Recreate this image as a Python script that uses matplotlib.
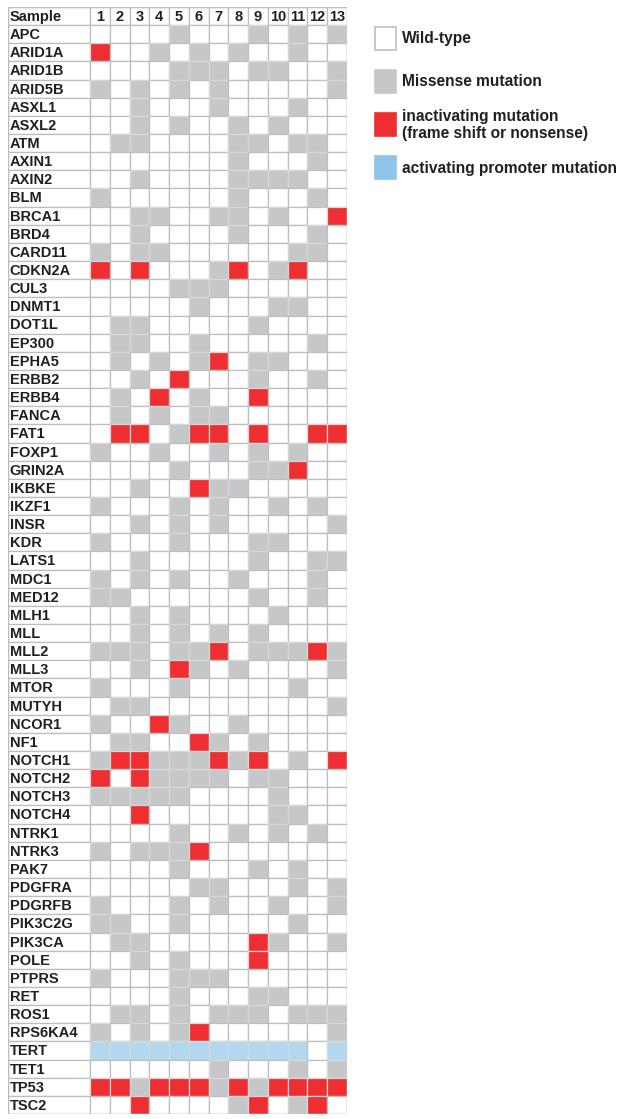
import matplotlib.pyplot as plt
from matplotlib.patches import Rectangle

# 0 = wild-type, 1 = missense, 2 = inactivating, 3 = activating promoter
genes = ["APC", "ARID1A", "ARID1B", "ARID5B", "ASXL1", "ASXL2", "ATM", "AXIN1",
         "AXIN2", "BLM", "BRCA1", "BRD4", "CARD11", "CDKN2A", "CUL3", "DNMT1",
         "DOT1L", "EP300", "EPHA5", "ERBB2", "ERBB4", "FANCA", "FAT1", "FOXP1",
         "GRIN2A", "IKBKE", "IKZF1", "INSR", "KDR", "LATS1", "MDC1", "MED12",
         "MLH1", "MLL", "MLL2", "MLL3", "MTOR", "MUTYH", "NCOR1", "NF1",
         "NOTCH1", "NOTCH2", "NOTCH3", "NOTCH4", "NTRK1", "NTRK3", "PAK7",
         "PDGFRA", "PDGRFB", "PIK3C2G", "PIK3CA", "POLE", "PTPRS", "RET", "ROS1",
         "RPS6KA4", "TERT", "TET1", "TP53", "TSC2"]

status = [
    "0000100010101", "2001010100100", "0000111011001", "1010101000001",
    "0010001000100", "0010100101000", "0110000110110", "0000000100010",
    "0010000111100", "1000000100010", "0011001101002", "0010000100010",
    "1011000000110", "2020001201200", "0000111000000", "0000010001100",
    "0110000010000", "0110010000010", "0101012011000", "0010200010010",
    "0102010020000", "0101011000000", "0220122020022", "1001001010100",
    "0000100011200", "0010021100000", "1000101001010", "0010101000001",
    "1000100011000", "0010000010011", "1010100100010", "1100000010010",
    "0010100001000", "0010101010000", "1110112011121", "0010210100001",
    "1000100000100", "0110000000001", "1002100100000", "0110021010000",
    "1221112120102", "2021111011000", "1111100001000", "0020000001100",
    "0000100101010", "1011120000000", "0000100010100", "0000011000101",
    "1000101001001", "1100100000100", "0110000021001", "0010100020000",
    "1000111000000", "0000100011000", "0110101110111", "1010120000001",
    "3333333333303", "0000001000101", "2212221212222", "0020000120120",
]

samples = [str(i) for i in range(1, 14)]

colors = {"0": "white", "1": "#c6c7c9", "2": "#ee2e31", "3": "#b3d7ee"}
legend_labels = ["Wild-type", "Missense mutation",
                 "inactivating mutation\n(frame shift or nonsense)",
                 "activating promoter mutation"]
legend_colors = ["white", "#c6c7c9", "#ee2e31", "#8ec5e8"]

plt.rcParams['font.family'] = ['Liberation Sans', 'DejaVu Sans']
W, H = 619, 1119
fig = plt.figure(figsize=(W / 100, H / 100), dpi=100)

left, right, top, bottom = 8, 347, 7, 1114
cell_w = (right - 90) / 13
lab_w = (90 - left) / cell_w
ax = fig.add_axes([left / W, 1 - bottom / H, (right - left) / W, (bottom - top) / H])
ax.set_xlim(-lab_w, 13)
ax.set_ylim(len(genes) + 1, 0)
ax.axis('off')

edge = "#bdbdbd"
fs = 10.5
txt = "#231f20"
# header row
ax.add_patch(Rectangle((-lab_w, 0), lab_w, 1, facecolor="white", edgecolor=edge, lw=0.9))
ax.text(-lab_w + 0.08, 0.55, "Sample", fontsize=fs, fontweight='bold', va='center', ha='left', color=txt)
for j, s in enumerate(samples):
    ax.add_patch(Rectangle((j, 0), 1, 1, facecolor="white", edgecolor=edge, lw=0.9))
    ax.text(j + 0.5, 0.55, s, fontsize=fs, fontweight='bold', va='center', ha='center', color=txt)

for i, (g, row) in enumerate(zip(genes, status)):
    y = i + 1
    ax.add_patch(Rectangle((-lab_w, y), lab_w, 1, facecolor="white", edgecolor=edge, lw=0.9))
    ax.text(-lab_w + 0.08, y + 0.55, g, fontsize=fs, fontweight='bold', va='center', ha='left', color=txt)
    for j, c in enumerate(row):
        ec = edge if c == "0" else "#d8d8d8"
        ax.add_patch(Rectangle((j, y), 1, 1, facecolor=colors[c], edgecolor=ec, lw=0.9))

# outer border
ax.add_patch(Rectangle((-lab_w, 0), lab_w + 13, len(genes) + 1, fill=False, edgecolor=edge, lw=1.0))

# legend
lax = fig.add_axes([0, 0, 1, 1])
lax.set_xlim(0, W)
lax.set_ylim(H, 0)
lax.axis('off')
box_y = [27, 70, 113, 156]
for by, lab, col in zip(box_y, legend_labels, legend_colors):
    ec = "#c0c0c0" if col == "white" else col
    lax.add_patch(Rectangle((375, by), 21, 23, facecolor=col, edgecolor=ec, lw=1.2))
    lax.text(402, by + 12, lab, fontsize=11.2, fontweight='bold', va='center', ha='left',
             color=txt, linespacing=1.1)

fig.savefig("out.png", dpi=100)
